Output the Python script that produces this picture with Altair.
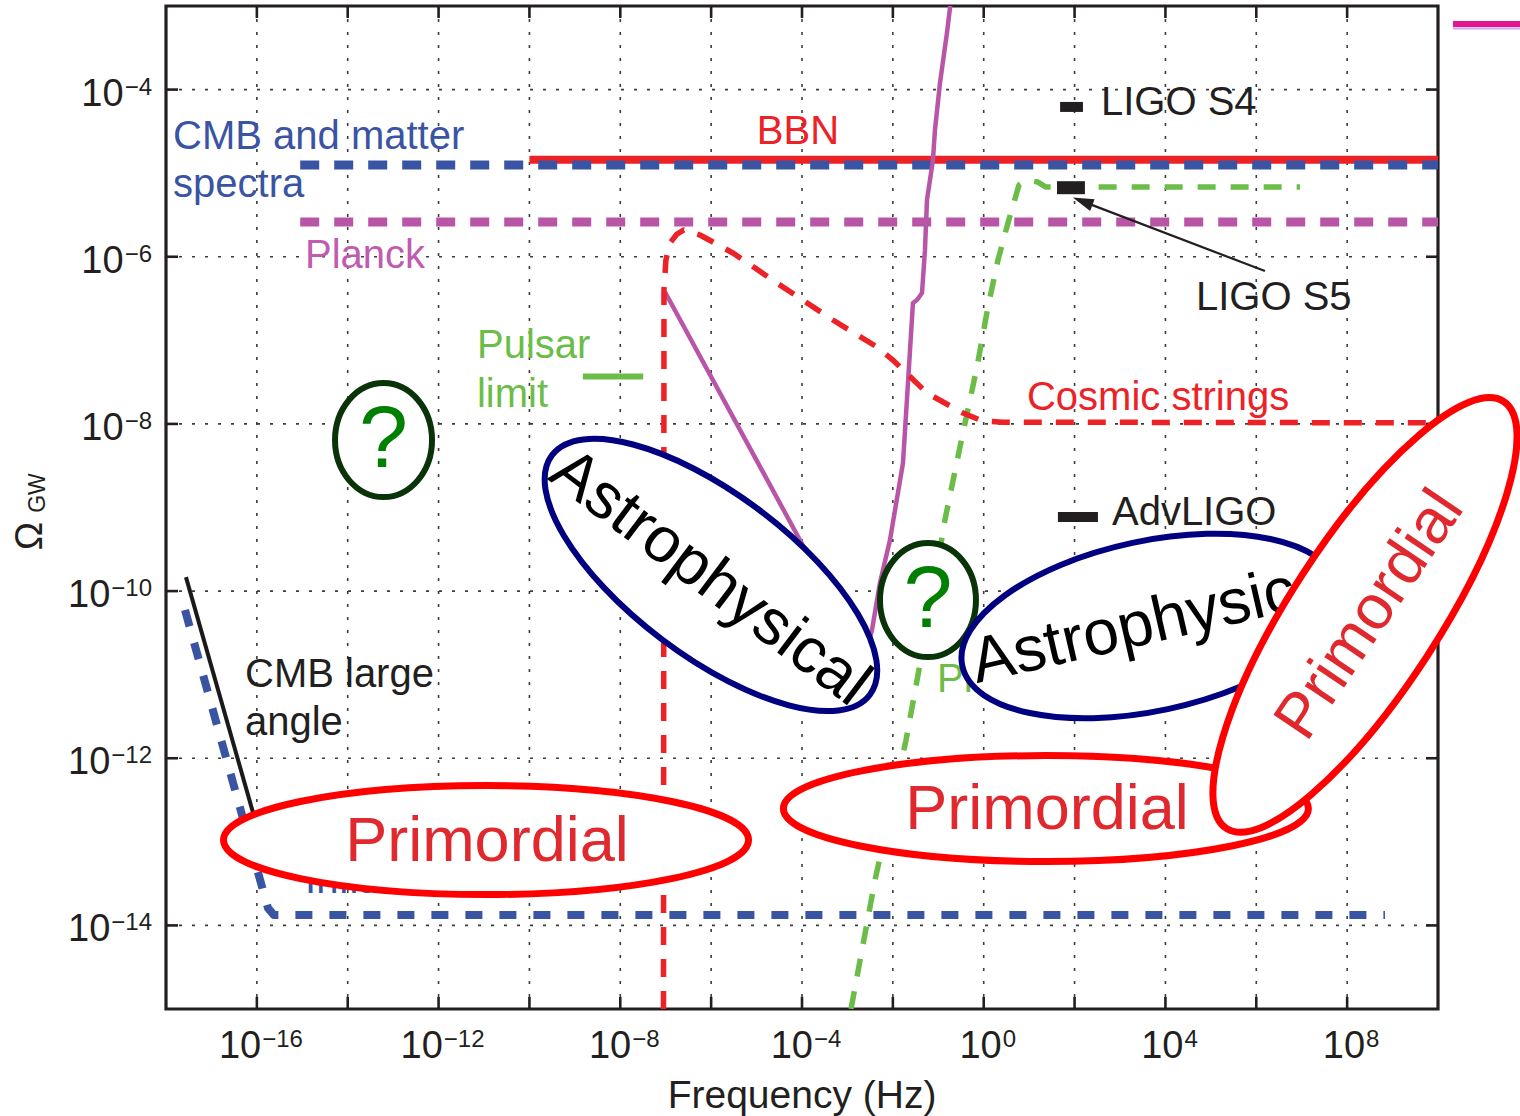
import altair as alt
import pandas as pd

# ------------------------------------------------------------------ layout
W, H = 1272, 1003
FONT = "Liberation Sans"
INK = "#231f20"
RED = "#ec2227"
BLUE = "#3a54a4"
PURPLE = "#b855a6"
GREEN = "#6bbd47"
NAVY = "#000080"
DARK_GREEN = "#0a330a"

F_DOMAIN = [1e-18, 1e10]
OMEGA_DOMAIN = [1e-15, 1e-3]

# ------------------------------------------------------------------ axes
F_GRID = [1e-16, 1e-14, 1e-12, 1e-10, 1e-8, 1e-6, 1e-4, 1e-2, 1.0, 1e2, 1e4, 1e6, 1e8]
OMEGA_GRID = [1e-14, 1e-12, 1e-10, 1e-8, 1e-6, 1e-4]
F_TICKS = [1e-16, 1e-12, 1e-8, 1e-4, 1.0, 1e4, 1e8]
F_TICK_EXP = ["−16", "−12", "−8", "−4", "0", "4", "8"]
OMEGA_TICKS = [1e-14, 1e-12, 1e-10, 1e-8, 1e-6, 1e-4]
OMEGA_TICK_EXP = ["−14", "−12", "−10", "−8", "−6", "−4"]

# ------------------------------------------------------------------ bounds and spectra (Hz, Omega_GW)
BBN_F = [1.0e-10, 1.0e10]
BBN_OMEGA = [1.45e-5, 1.45e-5]

CMB_MATTER_F = [9.0e-16, 1.0e10]
CMB_MATTER_OMEGA = [1.25e-5, 1.25e-5]

PLANCK_F = [9.0e-16, 1.0e10]
PLANCK_OMEGA = [2.6e-6, 2.6e-6]

CMB_LARGE_ANGLE_F = [2.75e-18, 1.06e-16]
CMB_LARGE_ANGLE_OMEGA = [1.47e-10, 1.38e-13]

INFLATION_F = [2.62e-18, 1.36e-16, 1.76e-16, 2.38e-16, 6.8e8]
INFLATION_OMEGA = [5.93e-11, 2.65e-14, 1.61e-14, 1.33e-14, 1.33e-14]

COSMIC_STRINGS_F = [8.93e-8, 9.16e-8, 1.01e-7, 1.24e-7, 1.77e-7, 2.52e-7, 5.68e-7,
                    3.02e-6, 2.81e-5, 4.8e-4, 4.47e-3, 1.0e-2, 5.64e-2, 0.35, 0.96,
                    2.65, 1.0e10]
COSMIC_STRINGS_OMEGA = [1.0e-15, 4.0e-7, 9.14e-7, 1.46e-6, 1.87e-6, 2.09e-6, 1.82e-6,
                        1.11e-6, 4.85e-7, 1.75e-7, 8.32e-8, 5.81e-8, 2.34e-8, 1.35e-8,
                        1.08e-8, 1.05e-8, 1.03e-8]

LISA_F = [9.64e-8, 9.0e-5, 1.14e-3, 2.09e-3, 3.47e-3, 5.2e-3, 8.64e-3, 1.67e-2, 2.15e-2,
          2.77e-2, 3.4e-2, 4.38e-2, 5.09e-2, 5.64e-2, 7.64e-2, 8.45e-2, 0.109, 0.155, 0.19]
LISA_OMEGA = [3.79e-7, 4.08e-10, 3.24e-11, 1.30e-11, 3.42e-11, 1.25e-10, 4.08e-10, 3.4e-9,
              3.08e-8, 2.8e-7, 3.04e-7, 3.68e-7, 1.2e-6, 4.78e-6, 1.44e-5, 3.28e-5, 1.2e-4,
              4.75e-4, 1.18e-3]

PRE_BIG_BANG_F = [1.2e-3, 4.05e-3, 1.95e-2, 6.56e-2, 0.140, 0.30, 0.711, 1.24, 2.06, 3.42,
                  5.97, 8.96, 15.6, 23.4, 9.15e6]
PRE_BIG_BANG_OMEGA = [1.0e-15, 3.49e-14, 1.65e-12, 5.93e-11, 7.08e-10, 5.29e-9, 4.8e-8,
                      2.51e-7, 9.14e-7, 2.54e-6, 7.21e-6, 8.28e-6, 7.83e-6, 6.82e-6, 6.82e-6]

PULSAR_F = [1.5e-9, 3.2e-8]
PULSAR_OMEGA = 3.7e-8

# detector limits: band edges (Hz) and Omega_GW
LIGO_S4_F = [48.0, 153.0]
LIGO_S4_OMEGA = 6.2e-5
LIGO_S5_F = [41.0, 169.0]
LIGO_S5_OMEGA = 6.7e-6
ADV_LIGO_F = [43.0, 327.0]
ADV_LIGO_OMEGA = 7.7e-10

# ------------------------------------------------------------------ helpers
XS = alt.Scale(type="log", domain=F_DOMAIN, nice=False)
YS = alt.Scale(type="log", domain=OMEGA_DOMAIN, nice=False)
ONE = pd.DataFrame({"k": [0]})


def X(field="f"):
    return alt.X(f"{field}:Q", scale=XS, axis=None)


def Y(field="omega"):
    return alt.Y(f"{field}:Q", scale=YS, axis=None)


def curve(f, omega, color, width, dash=None):
    df = pd.DataFrame({"f": f, "omega": omega, "i": range(len(f))})
    kw = dict(color=color, strokeWidth=width, clip=True, strokeCap="butt", strokeJoin="round")
    if dash:
        kw["strokeDash"] = dash
    return alt.Chart(df).mark_line(**kw).encode(x=X(), y=Y(), order="i:Q")


def segment(f_band, omega, color, width):
    df = pd.DataFrame({"f": [f_band[0]], "f2": [f_band[1]], "omega": [omega]})
    return alt.Chart(df).mark_rule(color=color, strokeWidth=width, strokeCap="butt").encode(
        x=X(), x2=alt.X2("f2:Q"), y=Y())


KAPPA = 0.5523


def ellipse_path(rx, ry):
    m = max(rx, ry)
    a, b = rx / m, ry / m
    ka, kb = KAPPA * a, KAPPA * b
    p = lambda v: f"{v:.4f}"
    return (f"M {p(a)} 0 C {p(a)} {p(kb)} {p(ka)} {p(b)} 0 {p(b)} "
            f"C {p(-ka)} {p(b)} {p(-a)} {p(kb)} {p(-a)} 0 "
            f"C {p(-a)} {p(-kb)} {p(-ka)} {p(-b)} 0 {p(-b)} "
            f"C {p(ka)} {p(-b)} {p(a)} {p(-kb)} {p(a)} 0 Z"), (2 * m) ** 2


# tick labels: "10" plus a raised exponent, laid out with Helvetica-like advance widths
BASE_FS, EXP_FS, EXP_RISE = 38, 24, 11
ADV = {"−": 0.584, "1": 0.556, "0": 0.556, "2": 0.556, "4": 0.556, "6": 0.556, "8": 0.556}
BASE_W = 2 * 0.556 * BASE_FS


def exp_width(e):
    return sum(ADV.get(ch, 0.556) for ch in e) * EXP_FS


def label_style(fs):
    return dict(font=FONT, fontSize=fs, color=INK, baseline="alphabetic")


layers = []

# ------------------------------------------------------------------ grid, ticks, frame
grid_style = dict(color="#3c3c3c", strokeWidth=1.6, strokeDash=[3, 10])
layers.append(alt.Chart(pd.DataFrame({"f": F_GRID})).mark_rule(**grid_style).encode(
    x=X(), y=alt.value(0), y2=alt.value(H)))
layers.append(alt.Chart(pd.DataFrame({"omega": OMEGA_GRID})).mark_rule(**grid_style).encode(
    y=Y(), x=alt.value(0), x2=alt.value(W)))

tick_style = dict(color=INK, strokeWidth=2.6)
for y0, y1 in [(H, H - 12), (0, 12)]:
    layers.append(alt.Chart(pd.DataFrame({"f": F_GRID})).mark_rule(**tick_style).encode(
        x=X(), y=alt.value(y0), y2=alt.value(y1)))
for x0, x1 in [(0, 12), (W - 12, W)]:
    layers.append(alt.Chart(pd.DataFrame({"omega": OMEGA_GRID})).mark_rule(**tick_style).encode(
        y=Y(), x=alt.value(x0), x2=alt.value(x1)))

layers.append(alt.Chart(ONE).mark_rect(fillOpacity=0, stroke=INK, strokeWidth=3.2).encode(
    x=alt.value(0), x2=alt.value(W), y=alt.value(0), y2=alt.value(H)))

# ------------------------------------------------------------------ spectra and bounds
layers += [
    curve(PLANCK_F, PLANCK_OMEGA, PURPLE, 9, [19, 15]),
    curve(BBN_F, BBN_OMEGA, RED, 8),
    curve(CMB_MATTER_F, CMB_MATTER_OMEGA, BLUE, 9, [19, 15]),
    curve(INFLATION_F, INFLATION_OMEGA, BLUE, 8, [17, 17]),
    curve(CMB_LARGE_ANGLE_F, CMB_LARGE_ANGLE_OMEGA, "#1a1a1a", 4),
    curve(LISA_F, LISA_OMEGA, PURPLE, 4.5),
    curve(PRE_BIG_BANG_F, PRE_BIG_BANG_OMEGA, GREEN, 5.5, [18, 15]),
    curve(COSMIC_STRINGS_F, COSMIC_STRINGS_OMEGA, RED, 5.5, [18, 14]),
    curve(PULSAR_F, [PULSAR_OMEGA, PULSAR_OMEGA], GREEN, 6),
    segment(LIGO_S4_F, LIGO_S4_OMEGA, INK, 10),
    segment(LIGO_S5_F, LIGO_S5_OMEGA, INK, 13),
    segment(ADV_LIGO_F, ADV_LIGO_OMEGA, INK, 10),
]

# arrow from the LIGO S5 label to its marker
layers.append(curve([1.55e6, 150.0], [6.74e-7, 4.6e-6], INK, 2.2))
layers.append(alt.Chart(pd.DataFrame({"f": [150.0], "omega": [4.6e-6]})).mark_point(
    shape="M 0 -1 L 0.6 1 L -0.6 1 Z", size=441, angle=291, filled=True, fill=INK,
    strokeWidth=0, opacity=1).encode(x=X(), y=Y()))

# ------------------------------------------------------------------ curve labels
LABELS = [
    ("CMB and matter", 1.43e-18, 1.95e-5, BLUE, "left"),
    ("spectra", 1.43e-18, 5.19e-6, BLUE, "left"),
    ("Planck", 1.15e-15, 7.33e-7, "#c05cb0", "left"),
    ("BBN", 8.15e-5, 2.23e-5, RED, "center"),
    ("LIGO S4", 381.0, 4.97e-5, INK, "left"),
    ("LIGO S5", 4.7e4, 2.31e-7, INK, "left"),
    ("Pulsar", 7.0e-12, 6.14e-8, GREEN, "left"),
    ("limit", 7.0e-12, 1.59e-8, GREEN, "left"),
    ("Cosmic strings", 8.96, 1.47e-8, RED, "left"),
    ("AdvLIGO", 665.0, 6.17e-10, INK, "left"),
    ("CMB large", 5.48e-17, 7.11e-12, INK, "left"),
    ("angle", 5.48e-17, 1.9e-12, INK, "left"),
    ("Pre-big bang", 9.35e-2, 6.19e-12, GREEN, "left"),
    ("Inflation", 1.15e-15, 2.44e-14, BLUE, "left"),
]
for align in ["left", "center"]:
    rows = [r for r in LABELS if r[4] == align]
    df = pd.DataFrame({"t": [r[0] for r in rows], "f": [r[1] for r in rows],
                       "omega": [r[2] for r in rows], "c": [r[3] for r in rows]})
    layers.append(alt.Chart(df).mark_text(font=FONT, fontSize=40, align=align,
                                          baseline="alphabetic").encode(
        x=X(), y=Y(), text="t:N", color=alt.Color("c:N", scale=None)))

# ------------------------------------------------------------------ tick labels and titles
for f, e in zip(F_TICKS, F_TICK_EXP):
    ew = exp_width(e)
    start = -(BASE_W + 1 + ew) / 2 + 4
    row = pd.DataFrame({"f": [f], "b": ["10"], "e": [e]})
    layers.append(alt.Chart(row).mark_text(align="left", dx=start, **label_style(BASE_FS)).encode(
        x=X(), y=alt.value(H + 49), text="b:N"))
    layers.append(alt.Chart(row).mark_text(align="left", dx=start + BASE_W + 1,
                                           dy=-EXP_RISE, **label_style(EXP_FS)).encode(
        x=X(), y=alt.value(H + 49), text="e:N"))

for om, e in zip(OMEGA_TICKS, OMEGA_TICK_EXP):
    ew = exp_width(e)
    row = pd.DataFrame({"omega": [om], "b": ["10"], "e": [e]})
    layers.append(alt.Chart(row).mark_text(align="right", dx=-(ew + 1), dy=16,
                                           **label_style(BASE_FS)).encode(
        y=Y(), x=alt.value(-14), text="b:N"))
    layers.append(alt.Chart(row).mark_text(align="right", dy=16 - EXP_RISE,
                                           **label_style(EXP_FS)).encode(
        y=Y(), x=alt.value(-14), text="e:N"))

layers.append(alt.Chart(ONE).mark_text(align="center", text="Frequency (Hz)",
                                       **label_style(39)).encode(
    x=alt.value(W / 2), y=alt.value(H + 99)))
layers.append(alt.Chart(ONE).mark_text(align="center", angle=270, text="Ω",
                                       **label_style(38)).encode(
    x=alt.value(-124), y=alt.value(530)))
layers.append(alt.Chart(ONE).mark_text(align="center", angle=270, text="GW",
                                       **label_style(23)).encode(
    x=alt.value(-121), y=alt.value(487)))

# legend stub at the top right
layers.append(alt.Chart(ONE).mark_rule(color="#e2178e", strokeWidth=6).encode(
    x=alt.value(1287), x2=alt.value(1354), y=alt.value(18)))
layers.append(alt.Chart(ONE).mark_rule(color="#d8a6ec", strokeWidth=2).encode(
    x=alt.value(1287), x2=alt.value(1354), y=alt.value(22.5)))

# ------------------------------------------------------------------ source-class bubbles
# text, centre (Hz, Omega), semi-axes px, rotation, outline, width, label centre, label angle, size, colour
BUBBLES = [
    ("Astrophysical", 9.9e-7, 1.56e-10, 199, 81, 37, NAVY, 6, 9.4e-7, 1.43e-10, 37, 64, "#000000"),
    ("?", 6.14e-14, 6.41e-9, 48.5, 57, 0, DARK_GREEN, 6, 6.14e-14, 6.24e-9, 0, 88, "#008000"),
    ("?", 5.93e-2, 7.82e-11, 48, 57, 0, DARK_GREEN, 6, 5.93e-2, 7.6e-11, 0, 88, "#008000"),
    ("Primordial", 1.107e-11, 1.05e-13, 262.5, 54.5, 0, "#ff0000", 7, 1.16e-11, 9.95e-14, 0, 63, "#e0292e"),
    ("Astrophysical", 4.6e3, 3.82e-11, 192, 85, 348, NAVY, 6, 6855.0, 4.27e-11, 347, 64, "#000000"),
    ("Primordial", 23.4, 2.5e-13, 262.5, 53, 0, "#ff0000", 7, 24.7, 2.4e-13, 0, 63, "#e0292e"),
    ("Primordial", 2.47e8, 5.18e-11, 254.5, 74.5, 303, "#ff0000", 7, 3.18e8, 5.18e-11, 304, 63, "#e0292e"),
]
for (txt, f, om, rx, ry, ang, outline, sw, tf, tom, tang, fs, tcol) in BUBBLES:
    path, size = ellipse_path(rx, ry)
    layers.append(alt.Chart(pd.DataFrame({"f": [f], "omega": [om]})).mark_point(
        shape=path, size=size, angle=ang, filled=True, fill="white", stroke=outline,
        strokeWidth=sw, opacity=1).encode(x=X(), y=Y()))
    layers.append(alt.Chart(pd.DataFrame({"f": [tf], "omega": [tom], "t": [txt]})).mark_text(
        font=FONT, fontSize=fs, color=tcol, angle=tang, align="center", baseline="middle").encode(
        x=X(), y=Y(), text="t:N"))

chart = alt.layer(*layers).properties(
    width=W, height=H,
    padding={"left": 166, "top": 6, "right": 1520 - 166 - W, "bottom": 1116 - 6 - H},
    autosize=alt.AutoSizeParams(type="none"),
    background="white",
).configure_view(strokeWidth=0)

chart.save("out.html", embed_options={"renderer": "svg", "actions": False})
